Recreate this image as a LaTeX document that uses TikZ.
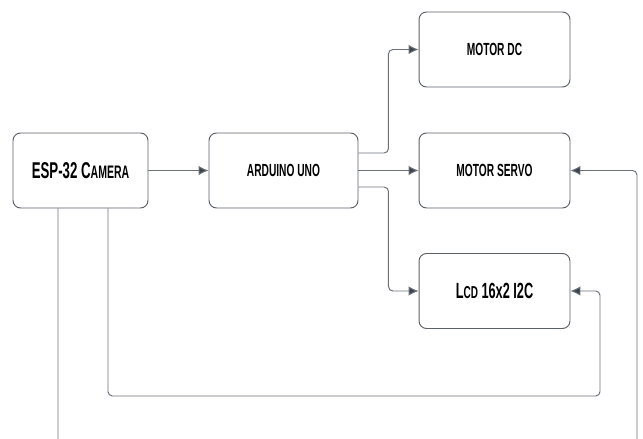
\documentclass[tikz,border=0pt]{standalone}
\usepackage{fontspec}
\usepackage{tikz}
\usetikzlibrary{arrows.meta,calc,positioning}
\newfontfamily\boxfont[FakeStretch=0.58]{Liberation Sans}
\definecolor{wire}{HTML}{6B7079}
\definecolor{edge}{HTML}{5C6068}
\definecolor{tip}{HTML}{3E444E}

\begin{document}
\begin{tikzpicture}[x=0.02cm,y=-0.02cm,every node/.style={font=\boxfont\bfseries},
  blk/.style={rounded corners=1.5mm,draw=edge,line width=0.55pt,fill=white,minimum width=2.98cm,minimum height=1.5cm,align=center,inner sep=2pt},
  wireln/.style={draw=wire,line width=0.55pt,rounded corners=2.5pt},
  arr/.style={wireln,-{Latex[length=2mm,width=1.9mm,fill=tip]}}]
  \useasboundingbox (0,0) rectangle (643,439);
  \node[blk,minimum width=2.7cm,font=\boxfont\bfseries\fontsize{13}{15}\selectfont] (esp) at (80.5,170.5) {ESP-32 C{\fontsize{10.3}{12}\selectfont AMERA}};
  \node[blk,font=\boxfont\bfseries\fontsize{10}{12}\selectfont] (uno) at (283.5,170.5) {ARDUINO UNO};
  \node[blk,minimum width=3.02cm,font=\boxfont\bfseries\fontsize{10}{12}\selectfont] (dc) at (494.5,49.5) {MOTOR DC};
  \node[blk,minimum width=3.02cm,font=\boxfont\bfseries\fontsize{10}{12}\selectfont] (servo) at (494.5,170.5) {MOTOR SERVO};
  \node[blk,minimum width=3.02cm,font=\boxfont\bfseries\fontsize{12.5}{14}\selectfont] (lcd) at (494.5,291) {L{\fontsize{9.8}{12}\selectfont CD} 16x2 I2C};
  % free ends at the bottom edge
  \coordinate (espout) at (58,439);
  \coordinate (servoin) at (637,439);
  \coordinate (lcdturn) at (600,396);
  % links
  \draw[arr] (esp.east) -- (uno.west);
  \draw[arr] (uno.east) -- (servo.west);
  \draw[arr] ([yshift=0.35cm]uno.east) -- ++(30,0) |- (dc.west);
  \draw[arr] ([yshift=-0.33cm]uno.east) -- ++(30,0) |- (lcd.west);
  \draw[arr] ([xshift=0.55cm]esp.south) |- (lcdturn) |- (lcd.east);
  \draw[wireln] ([xshift=-0.45cm]esp.south) -- (espout);
  \draw[arr] (servoin) |- (servo.east);
\end{tikzpicture}
\end{document}
